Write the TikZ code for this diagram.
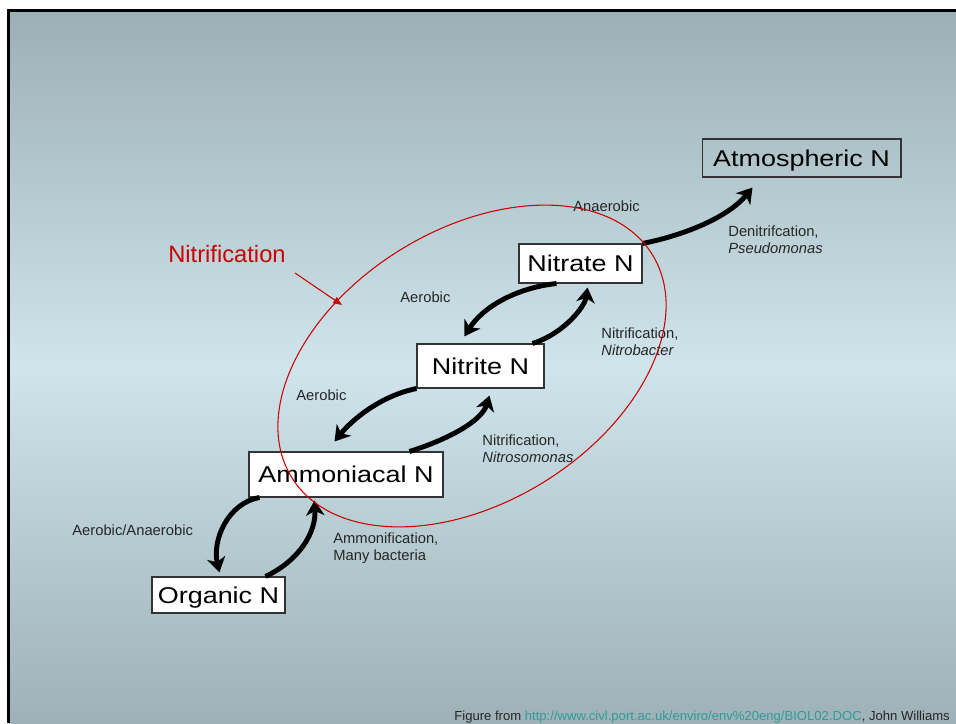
\documentclass[tikz,border=0pt]{standalone}
\usepackage{fontspec}
\setmainfont{Liberation Sans}
\newfontfamily\boxfont[FakeStretch=1.18]{Liberation Sans}
\usetikzlibrary{arrows.meta, calc}
\definecolor{bgtop}{HTML}{9BAFB4}
\definecolor{bgmid}{HTML}{CFE5EB}
\definecolor{bgbot}{HTML}{9DB1B6}
\definecolor{nitred}{HTML}{CC0000}
\definecolor{linkteal}{HTML}{2E9C9C}

\begin{document}
\begin{tikzpicture}[x=0.02cm, y=-0.02cm,
    box/.style={draw=black!80, line width=0.6pt, fill=white, inner sep=0pt,
      text height=9.4pt, text depth=0pt, font=\boxfont\fontsize{13}{15}\selectfont},
    lbl/.style={anchor=west, inner sep=0pt, align=left, text=black!85,
      font=\fontsize{8.4}{9.6}\selectfont},
    cyc/.style={line width=2.8pt, -{Stealth[length=8.5pt, width=10.5pt, inset=2.5pt]}}]
		\useasboundingbox (0,0) rectangle (956,723);
		%%%%%%%%%%%%%
		\begin{scope}[y=0.02cm]
			\shade[top color=bgtop, bottom color=bgmid] (8.5,-367) rectangle (956,-10.5);
			\shade[top color=bgmid, bottom color=bgbot] (8.5,-723) rectangle (956,-366);
		\end{scope}
		\draw[line width=1.7pt] (8.5,723) -- (8.5,10.5) -- (956,10.5);
		%%%%%%%%%%%%%
		\node[box, fill=none, minimum width=3.98cm, minimum height=0.76cm] (atm) at (801.5,158) {Atmospheric N};
		\node[box, minimum width=2.46cm, minimum height=0.78cm] (nitrate) at (580.5,263.5) {Nitrate N};
		\node[box, minimum width=2.54cm, minimum height=0.88cm] (nitrite) at (480.5,366) {Nitrite N};
		\node[box, minimum width=3.88cm, minimum height=0.90cm] (amm) at (346,474.5) {Ammoniacal N};
		\node[box, minimum width=2.66cm, minimum height=0.72cm] (org) at (218.5,595) {Organic N};
		%%%%%%%%%%%%%
		\node[lbl] (anaer) at (573,206) {Anaerobic};
		\node[lbl] (denit) at (728,240) {Denitrifcation,\\\textit{Pseudomonas}};
		\node[lbl] (aerup) at (400,297) {Aerobic};
		\node[lbl] (nbact) at (601,341.5) {Nitrification,\\\textit{Nitrobacter}};
		\node[lbl] (aerlo) at (296,395) {Aerobic};
		\node[lbl] (nsom) at (482,449) {Nitrification,\\\textit{Nitrosomonas}};
		\node[lbl] (aeran) at (72,530) {Aerobic/Anaerobic};
		\node[lbl] (ammon) at (333,548.5) {Ammonification,\\Many bacteria};
		%%%%%%%%%%%%%
		\draw[cyc] ($(amm.south west)+(11,0)$) .. controls (228,503) and (212,540) .. ($(org.north west)+(68,-4)$);
		\draw[cyc] ($(org.north east)+(-20,0)$) .. controls (300,560) and (316,532) .. ($(amm.south west)+(66,3)$);
		\draw[cyc] (nitrite.south west) .. controls (380,396) and (352,420) .. ($(amm.north west)+(86,-10)$);
		\draw[cyc] ($(amm.north west)+(161,0)$) .. controls (452,438) and (482,420) .. ($(nitrite.south west)+(73,7)$);
		\draw[cyc] ($(nitrate.south west)+(38,0)$) .. controls (515,288) and (482,308) .. ($(nitrite.north west)+(48,-7)$);
		\draw[cyc] ($(nitrite.north east)+(-12,0)$) .. controls (565,333) and (585,306) .. ($(nitrate.south west)+(69,4)$);
		\draw[cyc] (nitrate.north east) .. controls (690,234) and (730,215) .. ($(atm.south west)+(51,10)$);
		%%%%%%%%%%%%%
		\draw[nitred, line width=0.6pt, rotate around={31.7:(472,366)}] (472,366) ellipse [x radius=4.24cm, y radius=2.73cm];
		\node[text=nitred, font=\fontsize{13.5}{15}\selectfont, inner sep=0pt] (nitlbl) at (227,254) {Nitrification};
		\coordinate (ptr) at (295,273);
		\coordinate (ring) at (342,305);
		\draw[nitred, line width=0.6pt, -{Triangle[length=5pt, width=4pt]}] (ptr) -- (ring);
		%%%%%%%%%%%%%
		\node[anchor=west, inner sep=0pt, text=black!85, font=\fontsize{7.45}{9}\selectfont] (src) at (454,717)
			{Figure from \textcolor{linkteal}{http://www.civl.port.ac.uk/enviro/env\%20eng/BIOL02.DOC}, John Williams};
\end{tikzpicture}
\end{document}
